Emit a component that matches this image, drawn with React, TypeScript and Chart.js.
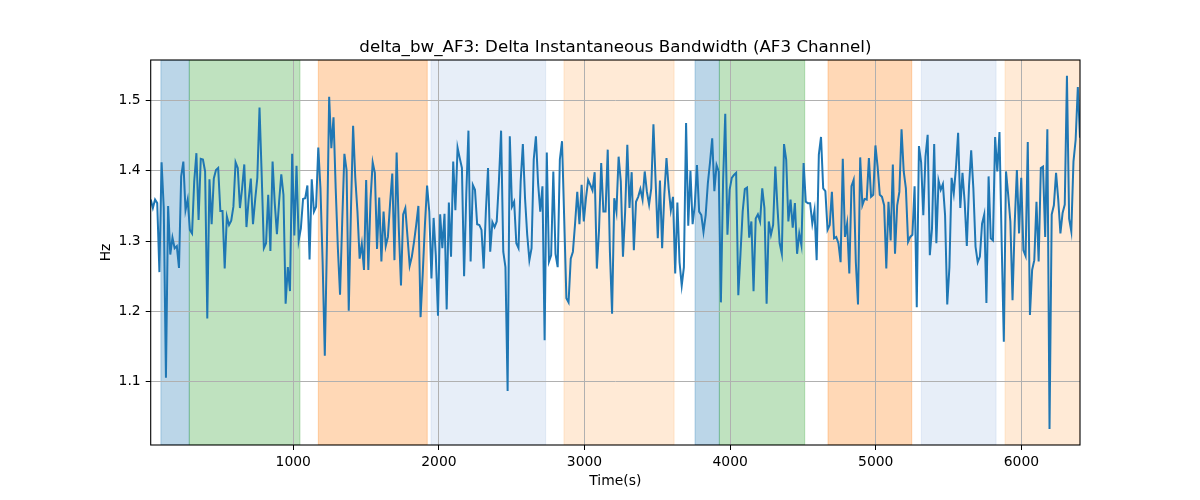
import { useEffect, useRef } from 'react';
import { Chart, registerables } from 'chart.js';
import type { Plugin } from 'chart.js';

Chart.register(...registerables);

// delta_bw_AF3 samples (Hz), evenly spaced in time
const startTime = 21;
const sampleStep = 14.945;
const bandwidth = [
  1.359, 1.347, 1.359, 1.354, 1.256, 1.412, 1.347, 1.106, 1.350,
  1.281, 1.305, 1.290, 1.293, 1.262, 1.392, 1.413, 1.344, 1.359, 1.316,
  1.311, 1.385, 1.425, 1.330, 1.417, 1.416, 1.399, 1.190, 1.388, 1.324,
  1.389, 1.401, 1.404, 1.343, 1.343, 1.261, 1.335, 1.323, 1.329, 1.349,
  1.412, 1.404, 1.347, 1.375, 1.409, 1.320, 1.359, 1.389, 1.324, 1.359,
  1.390, 1.490, 1.394, 1.290, 1.297, 1.366, 1.286, 1.413, 1.354, 1.310,
  1.356, 1.395, 1.366, 1.211, 1.263, 1.229, 1.424, 1.308, 1.407, 1.301,
  1.318, 1.360,
  1.361, 1.379, 1.274, 1.388, 1.342, 1.349, 1.433, 1.375, 1.270, 1.137,
  1.301, 1.505, 1.432, 1.476, 1.375, 1.290, 1.224, 1.328, 1.424, 1.401,
  1.201, 1.342, 1.464, 1.390, 1.342, 1.275, 1.296, 1.259, 1.387, 1.259,
  1.359, 1.412, 1.397, 1.289, 1.362, 1.271, 1.342, 1.293, 1.306, 1.354,
  1.396, 1.273, 1.426, 1.318, 1.237, 1.338, 1.347, 1.306, 1.265, 1.278,
  1.299, 1.323, 1.350, 1.192, 1.254, 1.323, 1.379, 1.342, 1.247, 1.333,
  1.280, 1.194, 1.338, 1.290, 1.339, 1.203, 1.355, 1.278, 1.413, 1.344,
  1.433, 1.418, 1.404, 1.250, 1.366, 1.457, 1.271, 1.380, 1.373, 1.324,
  1.323, 1.316, 1.261, 1.342, 1.404, 1.285, 1.327, 1.320, 1.328, 1.385,
  1.457, 1.285, 1.263, 1.087, 1.449, 1.349, 1.356, 1.297, 1.290, 1.385,
  1.438, 1.361, 1.309, 1.273, 1.290, 1.416, 1.449, 1.382, 1.342, 1.378,
  1.159, 1.426, 1.271, 1.280, 1.399, 1.282, 1.263, 1.416, 1.442, 1.332,
  1.219, 1.213, 1.275, 1.285, 1.325, 1.370, 1.324, 1.380, 1.328, 1.361,
  1.387, 1.380, 1.372, 1.398, 1.261, 1.316, 1.411, 1.342, 1.342, 1.430,
  1.285,
  1.197, 1.361, 1.342, 1.420, 1.385, 1.278, 1.342, 1.437, 1.347, 1.398,
  1.287, 1.356, 1.363, 1.374, 1.359, 1.399, 1.370, 1.352, 1.375, 1.466,
  1.385, 1.304, 1.386, 1.290, 1.366, 1.418, 1.375, 1.344, 1.363, 1.254,
  1.355, 1.270, 1.237, 1.263, 1.468, 1.322, 1.400, 1.324, 1.351, 1.408,
  1.342, 1.337, 1.313, 1.337, 1.382, 1.412, 1.446, 1.371, 1.408, 1.399,
  1.213, 1.385, 1.481, 1.309, 1.373, 1.390, 1.394, 1.397, 1.223, 1.282,
  1.342, 1.374, 1.376, 1.305, 1.328, 1.229, 1.332, 1.338, 1.328, 1.375,
  1.347, 1.211,
  1.328, 1.309, 1.323, 1.406, 1.347, 1.297, 1.282, 1.438, 1.416, 1.328,
  1.359, 1.319, 1.354, 1.282, 1.311, 1.294, 1.411, 1.356, 1.354, 1.354,
  1.325, 1.344, 1.273, 1.423, 1.448, 1.375, 1.371, 1.316, 1.323, 1.370,
  1.304, 1.306, 1.297, 1.270, 1.417, 1.306, 1.325, 1.254, 1.378, 1.387,
  1.270, 1.210, 1.419, 1.351, 1.360, 1.359, 1.418, 1.363, 1.366, 1.436,
  1.406, 1.366, 1.363, 1.351, 1.261, 1.356, 1.301, 1.409, 1.282, 1.351,
  1.370, 1.459, 1.399, 1.375, 1.299, 1.306, 1.309, 1.378, 1.206, 1.435,
  1.412, 1.337, 1.420, 1.451, 1.280, 1.318, 1.438, 1.297, 1.386, 1.373,
  1.381, 1.337, 1.210, 1.263, 1.390, 1.368, 1.404, 1.454, 1.347, 1.397,
  1.356, 1.293, 1.378, 1.429, 1.375, 1.292, 1.270, 1.278, 1.325, 1.338,
  1.212, 1.392, 1.304, 1.301, 1.448, 1.399, 1.455, 1.299, 1.157, 1.399,
  1.366, 1.328, 1.216, 1.325, 1.401, 1.311, 1.390, 1.287, 1.279, 1.441,
  1.195, 1.259, 1.273, 1.356, 1.271, 1.404, 1.406, 1.306, 1.459, 1.033,
  1.338, 1.351, 1.397, 1.359, 1.311, 1.340, 1.352, 1.535, 1.332, 1.314,
  1.413, 1.444, 1.519, 1.447,
];

// shaded phases (seconds)
const spanStarts = [91, 286, 1172, 1946, 2859, 3759, 3926, 4672, 5313, 5888];
const spanEnds = [286, 1046, 1920, 2733, 3615, 3926, 4512, 5247, 5826, 6403];
const spanPhases = ['blue', 'green', 'orange', 'ltblue', 'ltorange', 'blue', 'green', 'orange', 'ltblue', 'ltorange'];

const xTicks = [1000, 2000, 3000, 4000, 5000, 6000];
const yTicks = [1.1, 1.2, 1.3, 1.4, 1.5];

const phaseColors: Record<string, string> = {
  blue: 'rgba(31,119,180,0.3)',
  green: 'rgba(44,160,44,0.3)',
  orange: 'rgba(255,127,14,0.3)',
  ltblue: 'rgba(174,199,232,0.3)',
  ltorange: 'rgba(255,187,120,0.3)',
};

const FONT = '"DejaVu Sans", sans-serif';

const decorations: Plugin<'line'> = {
  id: 'decorations',
  beforeDraw(chart) {
    const { ctx, chartArea: a } = chart;
    const x = chart.scales.x;
    ctx.save();
    ctx.beginPath();
    ctx.rect(a.left, a.top, a.right - a.left, a.bottom - a.top);
    ctx.clip();
    spanStarts.forEach((s, i) => {
      const x0 = x.getPixelForValue(s);
      const x1 = x.getPixelForValue(spanEnds[i]);
      const c = phaseColors[spanPhases[i]];
      ctx.fillStyle = c;
      ctx.fillRect(x0, a.top, x1 - x0, a.bottom - a.top);
      ctx.strokeStyle = c;
      ctx.lineWidth = 1;
      ctx.strokeRect(x0, a.top, x1 - x0, a.bottom - a.top);
    });
    ctx.restore();
  },
  afterDraw(chart) {
    const { ctx, chartArea: a } = chart;
    ctx.save();
    // frame on all four sides
    ctx.strokeStyle = '#000';
    ctx.lineWidth = 1.1;
    ctx.strokeRect(a.left, a.top, a.right - a.left, a.bottom - a.top);

    ctx.fillStyle = '#000';
    ctx.textAlign = 'center';
    ctx.font = `16.7px ${FONT}`;
    ctx.textBaseline = 'alphabetic';
    ctx.fillText('delta_bw_AF3: Delta Instantaneous Bandwidth (AF3 Channel)', (a.left + a.right) / 2, 52);

    ctx.font = `13.9px ${FONT}`;
    ctx.textBaseline = 'middle';
    ctx.fillText('Time(s)', (a.left + a.right) / 2, 481);
    ctx.translate(106, (a.top + a.bottom) / 2);
    ctx.rotate(-Math.PI / 2);
    ctx.fillText('Hz', 0, 0);
    ctx.restore();
  },
};

export default function App() {
  const canvasRef = useRef<HTMLCanvasElement>(null);

  useEffect(() => {
    const canvas = canvasRef.current;
    if (!canvas) return;
    const points = bandwidth.map((v, i) => ({ x: startTime + i * sampleStep, y: v }));

    const chart = new Chart(canvas, {
      type: 'line',
      data: {
        datasets: [
          {
            data: points,
            borderColor: '#1f77b4',
            borderWidth: 2,
            pointRadius: 0,
            tension: 0,
            fill: false,
          },
        ],
      },
      options: {
        responsive: false,
        animation: false,
        devicePixelRatio: 1,
        layout: { padding: { top: 60, left: 0, right: 120, bottom: 0 } },
        plugins: {
          legend: { display: false },
          tooltip: { enabled: false },
          title: { display: false },
        },
        scales: {
          x: {
            type: 'linear',
            min: startTime,
            max: startTime + (bandwidth.length - 1) * sampleStep,
            afterBuildTicks: (s) => {
              s.ticks = xTicks.map((v) => ({ value: v }));
            },
            afterFit: (s) => {
              s.height = 55;
            },
            border: { display: false },
            grid: { color: '#b0b0b0', lineWidth: 1, tickColor: '#000', tickLength: 5 },
            ticks: {
              color: '#000',
              padding: 4,
              maxRotation: 0,
              font: { family: FONT, size: 13.9 },
              callback: (v) => String(v),
            },
          },
          y: {
            type: 'linear',
            min: 1.0103,
            max: 1.5574,
            afterBuildTicks: (s) => {
              s.ticks = yTicks.map((v) => ({ value: v }));
            },
            afterFit: (s) => {
              s.width = 150.7;
            },
            border: { display: false },
            grid: { color: '#b0b0b0', lineWidth: 1, tickColor: '#000', tickLength: 5 },
            ticks: {
              color: '#000',
              padding: 5,
              font: { family: FONT, size: 13.9 },
              callback: (v) => Number(v).toFixed(1),
            },
          },
        },
      },
      plugins: [decorations],
    });

    return () => chart.destroy();
  }, []);

  return (
    <div style={{ width: 1200, height: 500, background: '#fff' }}>
      <style>{'body{margin:0}'}</style>
      <canvas ref={canvasRef} width={1200} height={500} style={{ display: 'block' }} />
    </div>
  );
}
